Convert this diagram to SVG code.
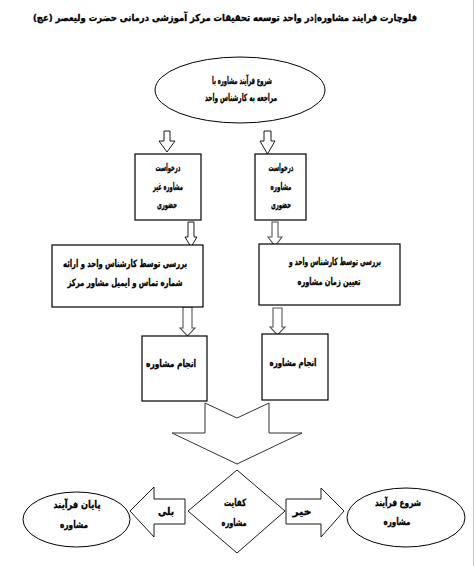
<svg xmlns="http://www.w3.org/2000/svg" width="475" height="566" viewBox="0 0 475 566">
<style>
.t{font-family:"DejaVu Sans",sans-serif;font-weight:bold;font-size:10px;fill:#000;stroke:#000;stroke-width:0.3;text-anchor:middle;direction:rtl;unicode-bidi:embed}
.title{font-size:9.5px;stroke-width:0.35}
.box{fill:#fff;stroke:#000;stroke-width:1.2}
.ell{fill:#fff;stroke:#000;stroke-width:1}
.arr{fill:#fff;stroke:#000;stroke-width:0.9}
.arrg{fill:#fff;stroke:#555;stroke-width:1.1}
.big{fill:#fff;stroke:#333;stroke-width:1}
</style>
<rect width="475" height="566" fill="#fff"/>
<line x1="473.5" y1="0" x2="473.5" y2="566" stroke="#c8c8c8" stroke-width="1"/>
<g id="title">
<text class="t title" x="225" y="21" textLength="384" lengthAdjust="spacingAndGlyphs">فلوچارت فرایند مشاوره|در واحد توسعه تحقیقات مرکز آموزشی درمانی حضرت ولیعصر (عج)</text>
</g>
<g id="connectors">
<path class="arr" d="M164,131 H170 V141 H175 L167,152 L159,141 H164 Z"/>
<path class="arr" d="M264,131 H271 V141 H275 L267.5,154 L260,141 H264 Z"/>
<path class="arr" d="M188,222 H194 V237 H197 L191,247 L185,237 H188 Z"/>
<path class="arrg" d="M272,222 H278 V237 H282 L275,246 L268,237 H272 Z"/>
<path class="arrg" d="M183,307 H192 V328 H195 L187.5,336 L180,328 H183 Z"/>
<path class="arrg" d="M273,308 H282 V327 H285 L277.5,335 L270,327 H273 Z"/>
<path class="big" d="M205,403 L237,418 L269,403 V433 H302 L237,464 L172,433 H205 Z"/>
<g id="edge-yes">
<path class="arr" d="M130,511 L154,487 V499 H185 V524 H154 V537 Z"/>
<text class="t" x="166" y="515" textLength="16" lengthAdjust="spacingAndGlyphs">بلی</text>
</g>
<g id="edge-no">
<path class="arr" d="M286,499 H321 V488 L344,511 L321,537 V524 H286 Z"/>
<text class="t" x="302" y="515" textLength="19" lengthAdjust="spacingAndGlyphs">خیر</text>
</g>
</g>
<g id="start">
<ellipse class="ell" cx="240" cy="90" rx="85" ry="33"/>
<text class="t" x="242" y="84" textLength="60" lengthAdjust="spacingAndGlyphs">شروع فرآیند مشاوره با</text>
<text class="t" x="241" y="101" textLength="72" lengthAdjust="spacingAndGlyphs">مراجعه به کارشناس واحد</text>
</g>
<g id="req-remote">
<rect class="box" x="135" y="154" width="66" height="66"/>
<text class="t" x="168" y="171" textLength="25" lengthAdjust="spacingAndGlyphs">درخواست</text>
<text class="t" x="168" y="190" textLength="30" lengthAdjust="spacingAndGlyphs">مشاوره غیر</text>
<text class="t" x="167" y="208" textLength="20" lengthAdjust="spacingAndGlyphs">حضوری</text>
</g>
<g id="req-inperson">
<rect class="box" x="255" y="154" width="51" height="66"/>
<text class="t" x="281" y="171" textLength="25" lengthAdjust="spacingAndGlyphs">درخواست</text>
<text class="t" x="281" y="190" textLength="21" lengthAdjust="spacingAndGlyphs">مشاوره</text>
<text class="t" x="281" y="208" textLength="20" lengthAdjust="spacingAndGlyphs">حضوری</text>
</g>
<g id="review-remote">
<rect class="box" x="52" y="245" width="151" height="62"/>
<text class="t" x="125" y="267" textLength="124" lengthAdjust="spacingAndGlyphs">بررسی توسط کارشناس واحد و ارائه</text>
<text class="t" x="125" y="286" textLength="115" lengthAdjust="spacingAndGlyphs">شماره تماس و ایمیل مشاور مرکز</text>
</g>
<g id="review-inperson">
<rect class="box" x="259" y="244" width="141" height="61"/>
<text class="t" x="335" y="265" textLength="92" lengthAdjust="spacingAndGlyphs">بررسی توسط کارشناس واحد و</text>
<text class="t" x="329" y="285" textLength="63" lengthAdjust="spacingAndGlyphs">تعیین زمان مشاوره</text>
</g>
<g id="do-remote">
<rect class="box" x="142" y="336" width="65" height="65"/>
<text class="t" x="171" y="367" textLength="50" lengthAdjust="spacingAndGlyphs">انجام مشاوره</text>
</g>
<g id="do-inperson">
<rect class="box" x="262" y="334" width="66" height="66"/>
<text class="t" x="293" y="366" textLength="47" lengthAdjust="spacingAndGlyphs">انجام مشاوره</text>
</g>
<g id="decision">
<path class="arr" d="M237,470 L285,511 L237,553 L188,511 Z"/>
<text class="t" x="235" y="506" textLength="22" lengthAdjust="spacingAndGlyphs">کفایت</text>
<text class="t" x="234" y="526" textLength="25" lengthAdjust="spacingAndGlyphs">مشاوره</text>
</g>
<g id="end">
<ellipse class="ell" cx="76.5" cy="519.5" rx="53.5" ry="27.5"/>
<text class="t" x="77" y="508" textLength="47" lengthAdjust="spacingAndGlyphs">پایان فرآیند</text>
<text class="t" x="74" y="528" textLength="28" lengthAdjust="spacingAndGlyphs">مشاوره</text>
</g>
<g id="restart">
<ellipse class="ell" cx="406" cy="517.5" rx="59" ry="29.5"/>
<text class="t" x="398" y="506" textLength="46" lengthAdjust="spacingAndGlyphs">شروع فرآیند</text>
<text class="t" x="397" y="525" textLength="27" lengthAdjust="spacingAndGlyphs">مشاوره</text>
</g>
</svg>
